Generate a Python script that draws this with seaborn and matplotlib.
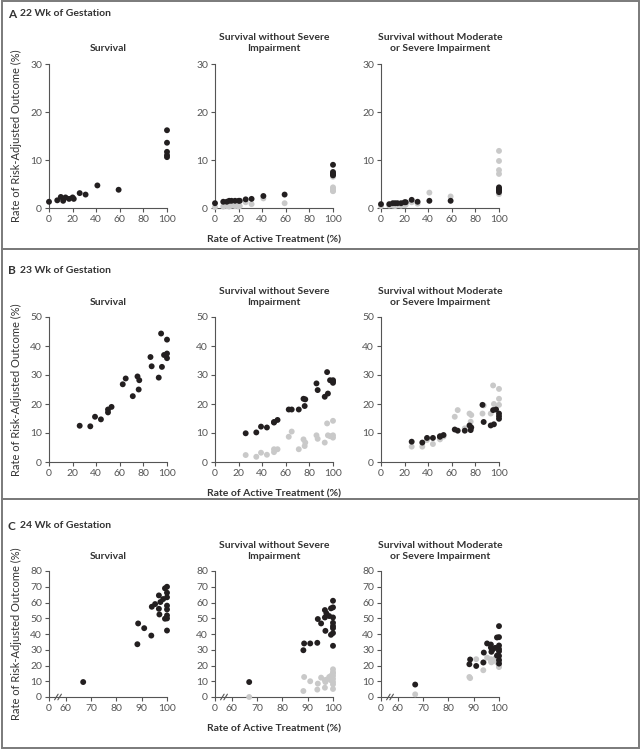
import matplotlib
matplotlib.use("Agg")
import matplotlib.pyplot as plt
import seaborn as sns
import pandas as pd
from matplotlib.patches import Rectangle

# ---- data: 22 weeks ----
wk22_x = [0, 7, 10, 12, 14, 17, 20, 21, 26, 31, 41, 59, 100, 100, 100, 100, 100]
wk22_surv = [1.3, 1.6, 2.3, 1.5, 2.2, 1.9, 2.2, 1.9, 3.1, 2.8, 4.7, 3.8, 16.2, 13.6, 11.7, 11.0, 10.6]
wk22_sws = [1.0, 1.3, 1.3, 1.5, 1.5, 1.5, 1.5, 1.5, 1.8, 1.9, 2.5, 2.8, 9.0, 7.5, 6.8, 7.2, 7.0]
wk22_sws_gray = [0.2, 0.3, 0.4, 0.3, 0.5, 0.4, 0.3, 0.4, 1.2, 0.8, 2.0, 1.0, 6.5, 4.3, 3.6, 4.0, 3.5]
wk22_swms = [0.8, 0.8, 1.0, 1.0, 1.0, 1.0, 1.2, 1.2, 1.7, 1.3, 1.5, 1.5, 4.3, 3.8, 3.3, 3.6, 4.0]
wk22_swms_gray = [0.4, 0.5, 0.5, 0.4, 0.6, 0.5, 0.6, 0.7, 1.2, 0.9, 3.2, 2.4, 11.9, 9.8, 7.9, 7.1, 2.9]

# ---- data: 23 weeks ----
wk23_x = [26, 35, 39, 44, 50, 50, 53, 62.5, 65, 71, 75, 76, 76.5, 86, 87, 93, 95, 95.7, 97.5, 100, 100, 100]
wk23_surv = [12.5, 12.3, 15.6, 14.7, 17.1, 18.1, 19.0, 26.8, 28.8, 22.7, 29.5, 25.0, 28.2,
             36.2, 33.0, 29.1, 44.3, 32.8, 36.9, 42.2, 37.4, 35.8]
wk23_sws = [9.9, 10.2, 12.2, 11.9, 13.8, 13.6, 14.5, 18.1, 18.1, 18.1, 21.8, 19.3, 21.6,
            27.1, 24.8, 22.5, 31.0, 23.6, 28.2, 28.2, 27.3, 27.8]
wk23_sws_gray = [2.4, 1.8, 3.2, 2.5, 3.4, 4.4, 4.4, 8.7, 10.5, 4.4, 7.8, 5.5, 6.7,
                 9.2, 8.0, 6.7, 13.3, 9.2, 8.9, 14.2, 9.2, 8.4]
wk23_swms = [7.0, 6.7, 8.3, 8.3, 8.7, 8.9, 9.3, 11.2, 10.8, 10.8, 12.6, 11.0, 11.9,
             19.7, 13.8, 12.6, 17.9, 13.0, 18.1, 16.7, 15.8, 14.9]
wk23_swms_gray = [5.3, 5.3, 7.6, 6.2, 7.8, 8.2, 8.8, 15.6, 17.9, 11.6, 16.7, 13.9, 16.2,
                  16.7, 19.5, 16.7, 26.4, 20.0, 19.0, 25.2, 21.8, 19.7]

# ---- data: 24 weeks (x axis broken between 0 and 60) ----
wk24_x = [66.9, 88.3, 88.6, 91, 93.8, 94.0, 95.3, 96.8, 96.8, 97.0, 97.4, 98.5, 99.2, 99.2,
          100, 100, 100, 100, 100, 100, 100, 100]
wk24_surv = [9.5, 33.5, 46.7, 43.7, 39.0, 57.3, 59.0, 64.5, 56.0, 52.4, 60.3, 62.2, 69.0, 49.7,
             70.0, 66.2, 63.3, 58.0, 55.6, 51.8, 49.9, 42.2]
wk24_sws = [9.5, 29.7, 34.0, 34.0, 34.4, 49.5, 46.7, 55.2, 50.5, 42.0, 53.1, 51.4, 56.3, 39.5,
            61.1, 56.9, 50.5, 47.1, 43.7, 40.6, 32.5, 45.0]
wk24_sws_gray = [0.0, 3.8, 12.7, 10.0, 4.7, 8.5, 12.3, 5.9, 10.6, 9.5, 11.0, 12.7, 13.4, 10.6,
                 17.6, 15.7, 13.4, 9.5, 5.1, 11.5, 8.0, 15.0]
wk24_swms = [7.9, 20.8, 23.8, 19.7, 21.9, 28.2, 34.0, 33.3, 31.4, 28.7, 30.0, 31.2, 37.8, 26.3,
             45.0, 38.0, 32.7, 30.4, 26.1, 23.4, 21.2, 29.0]
wk24_swms_gray = [1.7, 12.7, 12.0, 24.0, 17.0, 22.0, 25.0, 22.5, 24.0, 22.0, 23.0, 24.5, 24.0, 22.0,
                  19.5, 21.0, 23.0, 22.0, 20.5, 24.0, 19.0, 22.5]

outcome_titles = ["Survival", "Survival without Severe\nImpairment",
                  "Survival without Moderate\nor Severe Impairment"]
panel_labels = ["A", "B", "C"]
panel_titles = ["22 Wk of Gestation", "23 Wk of Gestation", "24 Wk of Gestation"]

BLACK = "#231f20"
GRAY = "#c9c9c9"
TXT = "#333333"
AXC = "#555555"

sns.set_style("ticks")
plt.rcParams["font.family"] = ["Lato", "DejaVu Sans"]

W, H = 640, 750
fig = plt.figure(figsize=(6.4, 7.5), dpi=100)


def fx(px):
    return px / W


def fy(py):
    return 1 - py / H


# panel geometry in pixels
panels = [
    dict(box=(1, 249), ax=(64, 208), head=14, title=48, ymax=30, yticks=[0, 10, 20, 30]),
    dict(box=(249, 499), ax=(317, 462), head=271, title=302, ymax=50, yticks=[0, 10, 20, 30, 40, 50]),
    dict(box=(499, 748), ax=(571, 697), head=526, title=556, ymax=80, yticks=list(range(0, 81, 10))),
]
col_left = [49, 215, 381]
col_w = 118

data = [
    (wk22_x, [wk22_surv, wk22_sws, wk22_swms], [None, wk22_sws_gray, wk22_swms_gray]),
    (wk23_x, [wk23_surv, wk23_sws, wk23_swms], [None, wk23_sws_gray, wk23_swms_gray]),
    (wk24_x, [wk24_surv, wk24_sws, wk24_swms], [None, wk24_sws_gray, wk24_swms_gray]),
]

X0_FAKE = 53.4  # where "0" sits on the broken 24-wk axis

for p, (geo, (xs, blacks, grays)) in enumerate(zip(panels, data)):
    top, bot = geo["box"]
    fig.patches.append(Rectangle((fx(1.5), fy(bot)), fx(637), (bot - top) / H,
                                 transform=fig.transFigure, fill=False,
                                 edgecolor="#7a7a7a", lw=1.4))
    fig.text(fx(8), fy(geo["head"]), panel_labels[p], fontsize=8.5, fontweight="bold",
             color=TXT, va="center", ha="left")
    fig.text(fx(20.5), fy(geo["head"]), panel_titles[p], fontsize=7.5, fontweight="bold",
             color=TXT, va="center", ha="left")

    a_top, a_bot = geo["ax"]
    for c in range(3):
        ax = fig.add_axes([fx(col_left[c]), fy(a_bot), fx(col_w), (a_bot - a_top) / H])
        if grays[c] is not None:
            df_g = pd.DataFrame({"x": xs, "y": grays[c]})
            sns.scatterplot(data=df_g, x="x", y="y", ax=ax, color=GRAY, s=18,
                            edgecolor="none", clip_on=False, zorder=3)
        df_b = pd.DataFrame({"x": xs, "y": blacks[c]})
        sns.scatterplot(data=df_b, x="x", y="y", ax=ax, color=BLACK, s=18,
                        edgecolor="none", clip_on=False, zorder=4)

        ax.set_ylim(0, geo["ymax"])
        ax.set_yticks(geo["yticks"])
        if p < 2:
            ax.set_xlim(0, 100)
            ax.set_xticks(range(0, 101, 20))
        else:
            ax.set_xlim(X0_FAKE, 100)
            ax.set_xticks([X0_FAKE, 60, 70, 80, 90, 100])
            ax.set_xticklabels(["0", "60", "70", "80", "90", "100"])
            # break marks on the x axis
            for dx in (0, 1.3):
                ax.plot([55.6 + dx, 57.0 + dx], [-1.8, 1.8], transform=ax.transData,
                        color=AXC, lw=0.8, clip_on=False)
        ax.set_xlabel("")
        ax.set_ylabel("")
        sns.despine(ax=ax)
        for s in ("left", "bottom"):
            ax.spines[s].set_color(AXC)
            ax.spines[s].set_linewidth(0.8)
        ax.tick_params(axis="both", length=3, width=0.8, color=AXC,
                       labelsize=7.5, labelcolor=AXC, pad=2)
        ax.patch.set_alpha(0)

        fig.text(fx(col_left[c] + col_w / 2), fy(geo["title"] + 5), outcome_titles[c],
                 fontsize=7.5, fontweight="bold", color=TXT, ha="center", va="bottom",
                 linespacing=1.35)

    fig.text(fx(16), fy((a_top + a_bot) / 2), "Rate of Risk-Adjusted Outcome (%)",
             rotation=90, fontsize=8, color=TXT, ha="center", va="center")
    fig.text(fx(274), fy(a_bot + 32), "Rate of Active Treatment (%)",
             fontsize=7.5, fontweight="bold", color=TXT, ha="center", va="center")

fig.savefig("out.png", dpi=100)
